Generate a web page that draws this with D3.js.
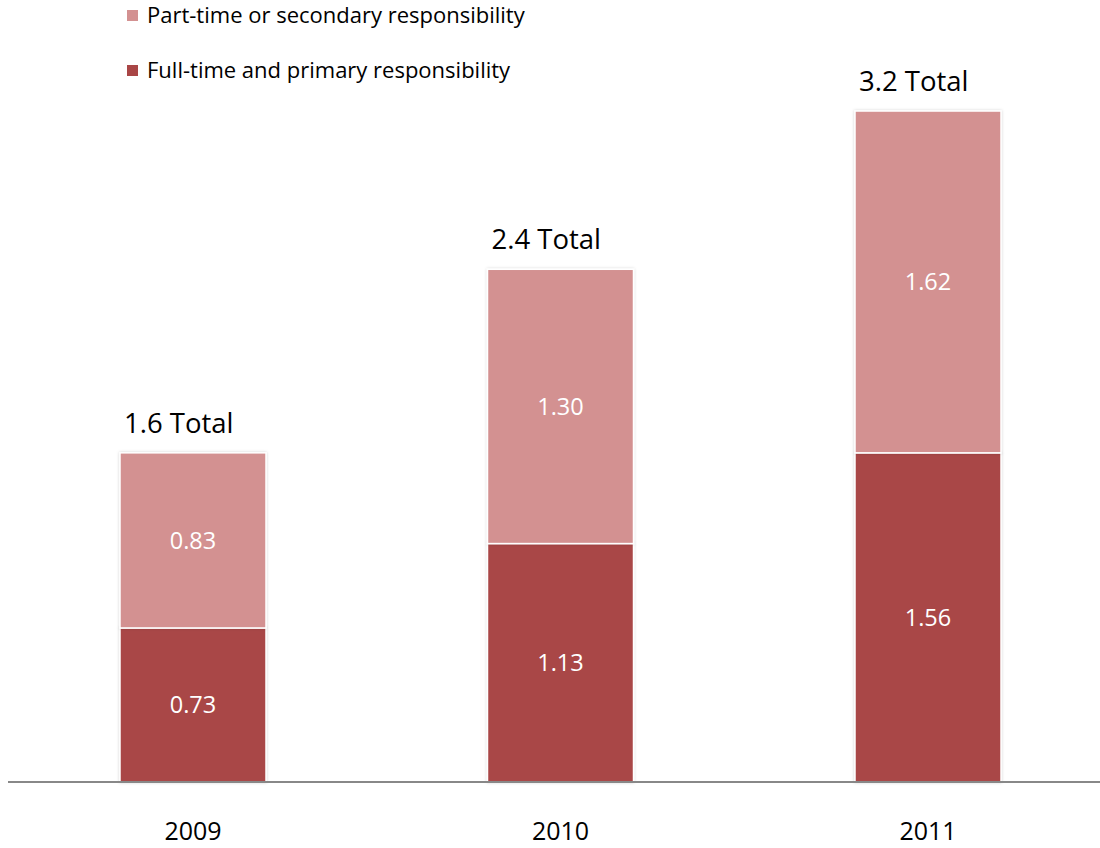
<!DOCTYPE html>
<html>
<head>
<meta charset="utf-8">
<script src="https://cdn.jsdelivr.net/npm/d3@7"></script>
<style>
  body { margin: 0; background: #fff; }
  svg { display: block; font-family: "Open Sans", Lato, sans-serif; }
</style>
</head>
<body>
<svg id="chart" width="1100" height="848"></svg>
<script>
// chart values
var years = ["2009", "2010", "2011"];
var fullTime = [0.73, 1.13, 1.56];
var partTime = [0.83, 1.30, 1.62];
var totalLabels = ["1.6 Total", "2.4 Total", "3.2 Total"];
var seriesNames = ["Part-time or secondary responsibility", "Full-time and primary responsibility"];

var colors = { full: "#a94646", part: "#d39191" };

var svg = d3.select("#chart");

// rows for the stack
var rows = years.map(function(y, i) {
  return { year: y, full: fullTime[i], part: partTime[i], label: totalLabels[i] };
});

var x = d3.scaleBand().domain(years).range([9.75, 1111.25])
  .paddingInner(0.6027).paddingOuter(0.3);
var y = d3.scaleLinear().domain([0, 3.5]).range([782, 782 - 3.5 * 211]);

var stack = d3.stack().keys(["full", "part"]);
var layers = stack(rows);

// soft shadow around bars
var defs = svg.append("defs");
var f = defs.append("filter").attr("id", "shadow").attr("x", "-10%").attr("y", "-10%")
  .attr("width", "120%").attr("height", "120%");
f.append("feDropShadow").attr("dx", 0).attr("dy", 0).attr("stdDeviation", 1.5)
  .attr("flood-color", "#000").attr("flood-opacity", 0.18);

var g = svg.append("g");

layers.forEach(function(layer) {
  g.selectAll(".bar-" + layer.key)
    .data(layer)
    .enter().append("rect")
    .attr("class", "bar-" + layer.key)
    .attr("x", function(d) { return x(d.data.year); })
    .attr("width", x.bandwidth())
    .attr("y", function(d) { return y(d[1]); })
    .attr("height", function(d) { return y(d[0]) - y(d[1]); })
    .attr("fill", colors[layer.key])
    .attr("stroke", "#fff")
    .attr("stroke-width", 1.5)
    .attr("filter", "url(#shadow)");

  // value labels inside segments
  g.selectAll(".val-" + layer.key)
    .data(layer)
    .enter().append("text")
    .attr("class", "val-" + layer.key)
    .attr("x", function(d) { return x(d.data.year) + x.bandwidth() / 2; })
    .attr("y", function(d) { return (y(d[0]) + y(d[1])) / 2; })
    .attr("dy", "0.35em")
    .attr("text-anchor", "middle")
    .attr("fill", "#fff")
    .style("font-size", "23.5px")
    .text(function(d) { return (d[1] - d[0]).toFixed(2); });
});

// totals above bars
g.selectAll(".total")
  .data(rows)
  .enter().append("text")
  .attr("class", "total")
  .attr("x", function(d) { return x(d.year) + 4; })
  .attr("y", function(d) { return y(d.full + d.part) - 20; })
  .attr("fill", "#000")
  .style("font-size", "27.5px")
  .text(function(d) { return d.label; });

// baseline
svg.append("line")
  .attr("x1", 8).attr("x2", 1100)
  .attr("y1", y(0)).attr("y2", y(0))
  .attr("stroke", "#888").attr("stroke-width", 2);

// year labels
var xAxis = svg.append("g")
  .attr("transform", "translate(0," + y(0) + ")")
  .call(d3.axisBottom(x).tickSize(0).tickPadding(40));
xAxis.select(".domain").remove();
xAxis.selectAll("text")
  .style("font-family", "'Open Sans', Lato, sans-serif")
  .style("font-size", "25px")
  .attr("fill", "#000");

// legend
var legend = svg.append("g");
var legendColors = [colors.part, colors.full];
seriesNames.forEach(function(name, i) {
  var base = 23 + i * 55;
  legend.append("rect").attr("x", 127).attr("y", base - 13).attr("width", 11).attr("height", 11)
    .attr("fill", legendColors[i]);
  legend.append("text").attr("x", 147).attr("y", base)
    .style("font-size", "22px").attr("fill", "#000").text(name);
});
</script>
</body>
</html>
